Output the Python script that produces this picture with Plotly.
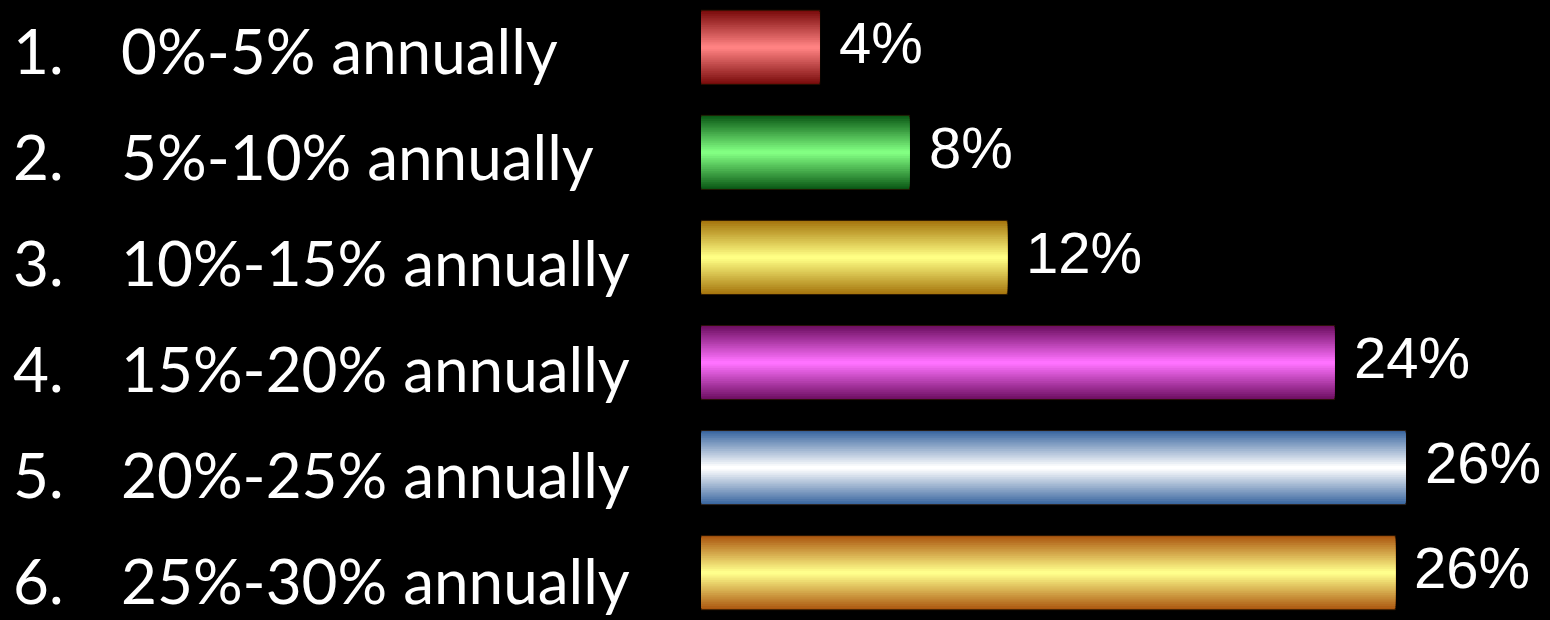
import plotly.graph_objects as go

# ---- data ----
numbers = ["1.", "2.", "3.", "4.", "5.", "6."]
categories = ["0%-5% annually", "5%-10% annually", "10%-15% annually",
              "15%-20% annually", "20%-25% annually", "25%-30% annually"]
values = [4.5, 7.9, 11.6, 24.0, 26.7, 26.3]          # bar lengths
value_labels = ["4%", "8%", "12%", "24%", "26%", "26%"]

# ---- styles ----
edge_colors = ["#7a0c0c", "#0b5a16", "#a6760e", "#6e0f62", "#3b67a0", "#ac5810"]
center_colors = ["#ff8282", "#82ff82", "#ffff84", "#ff72ff", "#ffffff", "#ffff8c"]
N_LAYERS = 20
BAR_W = 0.705


def hex2rgb(h):
    h = h.lstrip("#")
    return tuple(int(h[i:i + 2], 16) for i in (0, 2, 4))


def lerp(c1, c2, t):
    a, b = hex2rgb(c1), hex2rgb(c2)
    return "rgb(%d,%d,%d)" % tuple(round(a[i] + (b[i] - a[i]) * t) for i in range(3))


ypos = list(range(len(categories)))
fig = go.Figure()
for k in range(N_LAYERS):
    t = k / (N_LAYERS - 1)
    w = BAR_W * (1 - k / N_LAYERS)
    cols = [lerp(e, c, t) for e, c in zip(edge_colors, center_colors)]
    fig.add_trace(go.Bar(
        x=values, y=ypos, orientation="h", width=w,
        marker=dict(color=cols,
                    line=dict(width=1 if k == 0 else 0,
                              color="rgba(40,20,0,0.8)")),
        hoverinfo="skip", showlegend=False,
    ))

annotations = []
for i, (v, lab) in enumerate(zip(values, value_labels)):
    annotations.append(dict(
        x=v, y=i, xref="x", yref="y", text=lab, showarrow=False,
        xanchor="left", yanchor="middle", xshift=17, yshift=5,
        font=dict(family="Liberation Sans", size=58, color="white"),
    ))

PLOT_LEFT = 701
PLOT_W = 1550 - PLOT_LEFT
H = 620
for i, (num, cat) in enumerate(zip(numbers, categories)):
    ypx = 50 + 106 * i
    yp = 1 - ypx / H
    annotations.append(dict(
        x=(11 - PLOT_LEFT) / PLOT_W, y=yp, xref="paper", yref="paper",
        text=num, showarrow=False, xanchor="left", yanchor="middle",
        font=dict(family="Lato", size=62, color="white"),
    ))
    annotations.append(dict(
        x=(119 - PLOT_LEFT) / PLOT_W, y=yp, xref="paper", yref="paper",
        text=cat, showarrow=False, xanchor="left", yanchor="middle",
        font=dict(family="Lato", size=62, color="white"),
    ))

fig.update_layout(
    width=1550, height=620,
    margin=dict(l=PLOT_LEFT, r=0, t=0, b=0, pad=0),
    paper_bgcolor="black", plot_bgcolor="black",
    barmode="overlay",
    xaxis=dict(range=[0, 32.16], visible=False, fixedrange=True),
    yaxis=dict(range=[5.45, -0.45], visible=False, fixedrange=True),
    annotations=annotations,
    showlegend=False,
)

fig.write_html("out.html", config={"displayModeBar": False})
